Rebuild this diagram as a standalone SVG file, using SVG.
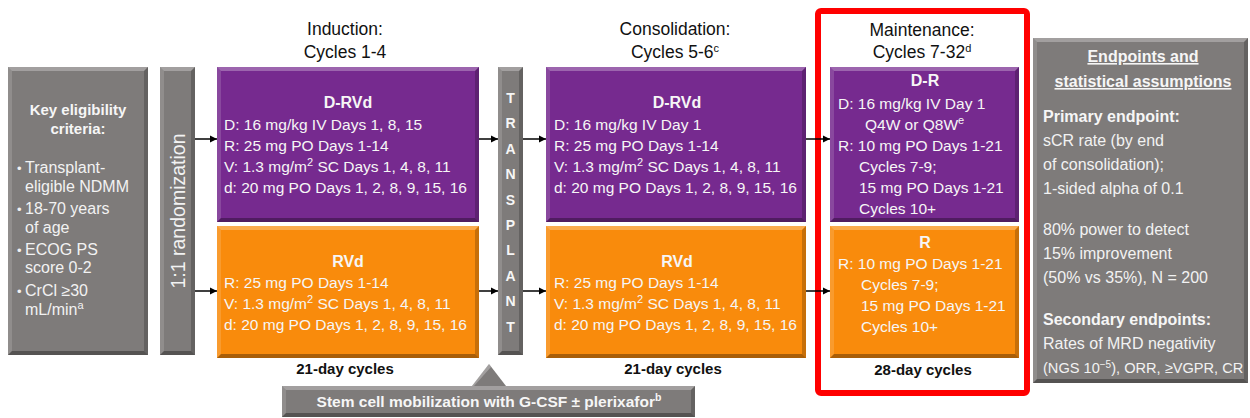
<svg xmlns="http://www.w3.org/2000/svg" width="1250" height="418" viewBox="0 0 1250 418">
<defs>
<style>
text{font-family:"Liberation Sans",Arial,sans-serif}
.gray{fill:#7e7b7a}
.pur{fill:#762a8f}
.org{fill:#f98b0c}
.hi{fill:#ffffff;fill-opacity:.28}
.hi2{fill:#ffffff;fill-opacity:.14}
.lo{fill:#000000;fill-opacity:.32}
.lo2{fill:#000000;fill-opacity:.2}
.hd{font-size:17.5px;fill:#111;text-anchor:middle}
.bx{font-size:15.5px;fill:#f6f6f6}
.bt{font-size:16px;font-weight:bold;fill:#f6f6f6;text-anchor:middle}
.cyc{font-size:15px;font-weight:bold;fill:#111;text-anchor:middle}
.ep{font-size:16px;fill:#f2f2f2}
.epb{font-size:16px;fill:#f6f6f6;font-weight:bold}
.tp{font-size:14px;font-weight:bold;fill:#f6f6f6;text-anchor:middle}
.conn{stroke:#000;stroke-width:1.5;fill:none}
</style>
<marker id="ah" markerUnits="userSpaceOnUse" markerWidth="8" markerHeight="8" refX="7" refY="4" orient="auto">
<path d="M0,0.5 L7,4 L0,7.5 z" fill="#000"/>
</marker>
</defs>
<rect width="1250" height="418" fill="#fff"/>

<!-- red frame -->
<rect id="maintenance-frame" x="818" y="11" width="209" height="382" rx="3" fill="none" stroke="#ff0000" stroke-width="6"/>

<!-- headings -->
<g id="heading-induction">
<text class="hd" x="345" y="35">Induction:</text>
<text class="hd" x="345" y="58">Cycles 1-4</text>
</g>
<g id="heading-consolidation">
<text class="hd" x="675" y="35">Consolidation:</text>
<text class="hd" x="675" y="58">Cycles 5-6<tspan font-size="11" dy="-6">c</tspan></text>
</g>
<g id="heading-maintenance">
<text class="hd" x="922" y="36">Maintenance:</text>
<text class="hd" x="922" y="58">Cycles 7-32<tspan font-size="11" dy="-6">d</tspan></text>
</g>

<!-- eligibility -->
<g id="eligibility">
<rect class="gray" x="8" y="67" width="140" height="288"/>
<polygon class="hi" points="8,67 148,67 144,71 12,71"/>
<polygon class="hi2" points="8,67 12,71 12,351 8,355"/>
<polygon class="lo" points="8,355 12,351 144,351 148,355"/>
<polygon class="lo2" points="148,67 148,355 144,351 144,71"/>
<text class="bt" x="78" y="115" style="font-size:15px">Key eligibility</text>
<text class="bt" x="78" y="134" style="font-size:15px">criteria:</text>
<text class="ep" x="17" y="173" style="font-size:13px">•</text><text class="ep" x="25" y="173">Transplant-</text>
<text class="ep" x="25" y="192">eligible NDMM</text>
<text class="ep" x="17" y="214" style="font-size:13px">•</text><text class="ep" x="25" y="214">18-70 years</text>
<text class="ep" x="25" y="233">of age</text>
<text class="ep" x="17" y="255" style="font-size:13px">•</text><text class="ep" x="25" y="255">ECOG PS</text>
<text class="ep" x="25" y="273">score 0-2</text>
<text class="ep" x="17" y="296" style="font-size:13px">•</text><text class="ep" x="25" y="296">CrCl ≥30</text>
<text class="ep" x="25" y="315">mL/min<tspan font-size="11" dy="-6">a</tspan></text>
</g>

<!-- randomization -->
<g id="randomization">
<rect class="gray" x="160" y="67" width="35" height="288"/>
<polygon class="hi" points="160,67 195,67 191,71 164,71"/>
<polygon class="hi2" points="160,67 164,71 164,351 160,355"/>
<polygon class="lo" points="160,355 164,351 191,351 195,355"/>
<polygon class="lo2" points="195,67 195,355 191,351 191,71"/>
<text transform="translate(185,211) rotate(-90)" x="0" y="0" font-size="19.5" fill="#f2f2f2" text-anchor="middle">1:1 randomization</text>
</g>

<!-- induction D-RVd -->
<g id="induction-drvd">
<rect class="pur" x="217" y="67" width="262" height="155"/>
<polygon class="hi" points="217,67 479,67 475,71 221,71"/>
<polygon class="hi2" points="217,67 221,71 221,218 217,222"/>
<polygon class="lo" points="217,222 221,218 475,218 479,222"/>
<polygon class="lo2" points="479,67 479,222 475,218 475,71"/>
<text class="bt" x="348" y="108">D-RVd</text>
<text class="bx" x="224" y="130">D: 16 mg/kg IV Days 1, 8, 15</text>
<text class="bx" x="224" y="151">R: 25 mg PO Days 1-14</text>
<text class="bx" x="224" y="172">V: 1.3 mg/m<tspan font-size="11" dy="-6">2</tspan><tspan dy="6"> SC Days 1, 4, 8, 11</tspan></text>
<text class="bx" x="224" y="193">d: 20 mg PO Days 1, 2, 8, 9, 15, 16</text>
</g>

<!-- induction RVd -->
<g id="induction-rvd">
<rect class="org" x="217" y="226" width="262" height="132"/>
<polygon class="hi" points="217,226 479,226 475,230 221,230"/>
<polygon class="hi2" points="217,226 221,230 221,354 217,358"/>
<polygon class="lo" points="217,358 221,354 475,354 479,358"/>
<polygon class="lo2" points="479,226 479,358 475,354 475,230"/>
<text class="bt" x="348" y="267">RVd</text>
<text class="bx" x="224" y="288">R: 25 mg PO Days 1-14</text>
<text class="bx" x="224" y="309">V: 1.3 mg/m<tspan font-size="11" dy="-6">2</tspan><tspan dy="6"> SC Days 1, 4, 8, 11</tspan></text>
<text class="bx" x="224" y="330">d: 20 mg PO Days 1, 2, 8, 9, 15, 16</text>
</g>
<text class="cyc" x="345" y="374">21-day cycles</text>

<!-- transplant -->
<g id="transplant">
<rect class="gray" x="498" y="67" width="25" height="288"/>
<polygon class="hi" points="498,67 523,67 519,71 502,71"/>
<polygon class="hi2" points="498,67 502,71 502,351 498,355"/>
<polygon class="lo" points="498,355 502,351 519,351 523,355"/>
<polygon class="lo2" points="523,67 523,355 519,351 519,71"/>
<text class="tp" x="510.5" y="103">T</text>
<text class="tp" x="510.5" y="128.4">R</text>
<text class="tp" x="510.5" y="153.8">A</text>
<text class="tp" x="510.5" y="179.2">N</text>
<text class="tp" x="510.5" y="204.6">S</text>
<text class="tp" x="510.5" y="230">P</text>
<text class="tp" x="510.5" y="255.4">L</text>
<text class="tp" x="510.5" y="280.8">A</text>
<text class="tp" x="510.5" y="306.2">N</text>
<text class="tp" x="510.5" y="331.6">T</text>
</g>

<!-- consolidation D-RVd -->
<g id="consolidation-drvd">
<rect class="pur" x="546" y="67" width="260" height="155"/>
<polygon class="hi" points="546,67 806,67 802,71 550,71"/>
<polygon class="hi2" points="546,67 550,71 550,218 546,222"/>
<polygon class="lo" points="546,222 550,218 802,218 806,222"/>
<polygon class="lo2" points="806,67 806,222 802,218 802,71"/>
<text class="bt" x="677" y="108">D-RVd</text>
<text class="bx" x="554" y="130">D: 16 mg/kg IV Day 1</text>
<text class="bx" x="554" y="151">R: 25 mg PO Days 1-14</text>
<text class="bx" x="554" y="172">V: 1.3 mg/m<tspan font-size="11" dy="-6">2</tspan><tspan dy="6"> SC Days 1, 4, 8, 11</tspan></text>
<text class="bx" x="554" y="193">d: 20 mg PO Days 1, 2, 8, 9, 15, 16</text>
</g>

<!-- consolidation RVd -->
<g id="consolidation-rvd">
<rect class="org" x="546" y="226" width="260" height="132"/>
<polygon class="hi" points="546,226 806,226 802,230 550,230"/>
<polygon class="hi2" points="546,226 550,230 550,354 546,358"/>
<polygon class="lo" points="546,358 550,354 802,354 806,358"/>
<polygon class="lo2" points="806,226 806,358 802,354 802,230"/>
<text class="bt" x="677" y="267">RVd</text>
<text class="bx" x="554" y="288">R: 25 mg PO Days 1-14</text>
<text class="bx" x="554" y="309">V: 1.3 mg/m<tspan font-size="11" dy="-6">2</tspan><tspan dy="6"> SC Days 1, 4, 8, 11</tspan></text>
<text class="bx" x="554" y="330">d: 20 mg PO Days 1, 2, 8, 9, 15, 16</text>
</g>
<text class="cyc" x="673" y="374">21-day cycles</text>

<!-- maintenance D-R -->
<g id="maintenance-dr">
<rect class="pur" x="830" y="67" width="189" height="155"/>
<polygon class="hi" points="830,67 1019,67 1015,71 834,71"/>
<polygon class="hi2" points="830,67 834,71 834,218 830,222"/>
<polygon class="lo" points="830,222 834,218 1015,218 1019,222"/>
<polygon class="lo2" points="1019,67 1019,222 1015,218 1015,71"/>
<text class="bt" x="925" y="86">D-R</text>
<text class="bx" x="838" y="109">D: 16 mg/kg IV Day 1</text>
<text class="bx" x="865" y="130">Q4W or Q8W<tspan font-size="11" dy="-6">e</tspan></text>
<text class="bx" x="838" y="151">R: 10 mg PO Days 1-21</text>
<text class="bx" x="859" y="172">Cycles 7-9;</text>
<text class="bx" x="859" y="193">15 mg PO Days 1-21</text>
<text class="bx" x="859" y="214">Cycles 10+</text>
</g>

<!-- maintenance R -->
<g id="maintenance-r">
<rect class="org" x="830" y="226" width="189" height="132"/>
<polygon class="hi" points="830,226 1019,226 1015,230 834,230"/>
<polygon class="hi2" points="830,226 834,230 834,354 830,358"/>
<polygon class="lo" points="830,358 834,354 1015,354 1019,358"/>
<polygon class="lo2" points="1019,226 1019,358 1015,354 1015,230"/>
<text class="bt" x="925" y="248">R</text>
<text class="bx" x="838" y="269">R: 10 mg PO Days 1-21</text>
<text class="bx" x="861" y="290">Cycles 7-9;</text>
<text class="bx" x="861" y="311">15 mg PO Days 1-21</text>
<text class="bx" x="861" y="332">Cycles 10+</text>
</g>
<text class="cyc" x="923" y="375">28-day cycles</text>

<!-- endpoints -->
<g id="endpoints">
<rect class="gray" x="1033" y="38" width="215" height="345"/>
<polygon class="hi" points="1033,38 1248,38 1244,42 1037,42"/>
<polygon class="hi2" points="1033,38 1037,42 1037,379 1033,383"/>
<polygon class="lo" points="1033,383 1037,379 1244,379 1248,383"/>
<polygon class="lo2" points="1248,38 1248,383 1244,379 1244,42"/>
<text class="epb" x="1143" y="62" text-anchor="middle" text-decoration="underline">Endpoints and</text>
<text class="epb" x="1143" y="87" text-anchor="middle" text-decoration="underline">statistical assumptions</text>
<text class="epb" x="1043" y="122">Primary endpoint:</text>
<text class="ep" x="1043" y="146">sCR rate (by end</text>
<text class="ep" x="1043" y="170">of consolidation);</text>
<text class="ep" x="1043" y="194">1-sided alpha of 0.1</text>
<text class="ep" x="1043" y="235">80% power to detect</text>
<text class="ep" x="1043" y="259">15% improvement</text>
<text class="ep" x="1043" y="283">(50% vs 35%), N = 200</text>
<text class="epb" x="1043" y="325">Secondary endpoints:</text>
<text class="ep" x="1043" y="349">Rates of MRD negativity</text>
<text class="ep" x="1043" y="373" style="font-size:14.6px">(NGS 10<tspan font-size="10" dy="-5">−5</tspan><tspan dy="5">), ORR, ≥VGPR, CR</tspan></text>
</g>

<!-- stem cell mobilization -->
<g id="stem-cell">
<polygon class="gray" points="489,364 506,386 472,386"/>
<polygon class="hi" points="489,364 491,367 474,386 472,386"/>
<rect class="gray" x="282" y="386" width="413" height="31"/>
<polygon class="hi" points="282,386 695,386 691,390 286,390"/>
<polygon class="hi2" points="282,386 286,390 286,413 282,417"/>
<polygon class="lo" points="282,417 286,413 691,413 695,417"/>
<polygon class="lo2" points="695,386 695,417 691,413 691,390"/>
<text x="489" y="407" font-size="15.5" font-weight="bold" fill="#f6f6f6" text-anchor="middle">Stem cell mobilization with G-CSF ± plerixafor<tspan font-size="10.5" dy="-6">b</tspan></text>
</g>

<!-- connectors -->
<g id="connectors" class="conn">
<line x1="195" y1="139" x2="217" y2="139" marker-end="url(#ah)"/>
<line x1="195" y1="291" x2="217" y2="291" marker-end="url(#ah)"/>
<line x1="479" y1="139" x2="498" y2="139" marker-end="url(#ah)"/>
<line x1="479" y1="291" x2="498" y2="291" marker-end="url(#ah)"/>
<line x1="523" y1="139" x2="546" y2="139" marker-end="url(#ah)"/>
<line x1="523" y1="291" x2="546" y2="291" marker-end="url(#ah)"/>
<line x1="806" y1="139" x2="830" y2="139" marker-end="url(#ah)"/>
<line x1="806" y1="291" x2="830" y2="291" marker-end="url(#ah)"/>
</g>
</svg>
